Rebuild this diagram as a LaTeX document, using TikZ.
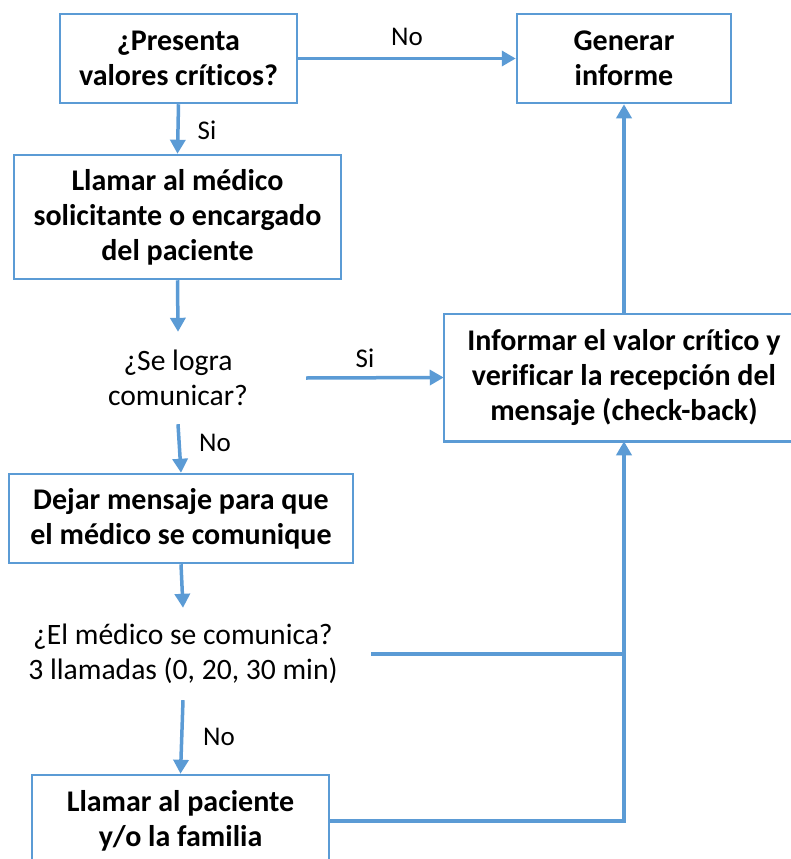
\documentclass[tikz,border=0pt]{standalone}
\usepackage{fontspec}
\setmainfont[Ligatures=NoCommon]{Carlito}
\usetikzlibrary{arrows.meta,calc}
\definecolor{lineblue}{HTML}{5B9BD5}
\tikzset{
  box/.style={draw=lineblue, line width=2.5pt, fill=white, align=center, inner sep=0pt, font=\fontsize{30}{35}\selectfont\bfseries},
  openbox/.style={box, draw=none},
  boxedge/.style={draw=lineblue, line width=2.5pt},
  qtext/.style={align=center, inner sep=0pt, font=\fontsize{29.6}{35}\selectfont},
  lbl/.style={inner sep=0pt, font=\fontsize{27}{32}\selectfont},
  conn/.style={draw=lineblue, line width=3.5pt, -{Triangle[length=14pt,width=15pt]}},
  plain/.style={draw=lineblue, line width=3.5pt}
}
\begin{document}
\begin{tikzpicture}[x=1pt,y=-1pt]
\useasboundingbox (0,0) rectangle (791,859);
\clip (0,0) rectangle (791,859);
\node[box, minimum width=237pt, minimum height=89pt] (q1) at (178.5,58.5) {¿Presenta\\valores críticos?};
\node[box, minimum width=214pt, minimum height=89pt] (gen) at (624,58.5) {Generar\\informe};
\node[box, minimum width=327pt, minimum height=124pt] (call) at (177.5,217) {Llamar al médico\\solicitante o encargado\\del paciente};
\node[qtext, minimum width=256pt, minimum height=92pt] (q2) at (178,378) {¿Se logra\\comunicar?};
\node[openbox, minimum width=358pt, minimum height=125pt] (inf) at (624,377.5) {Informar el valor crítico y\\verificar la recepción del\\mensaje (check-back)};
\draw[boxedge] (inf.north east) -- (inf.north west) -- (inf.south west) -- (inf.south east);
\node[box, minimum width=344pt, minimum height=89pt] (msg) at (181,518.5) {Dejar mensaje para que\\el médico se comunique};
\node[qtext, minimum width=376pt, minimum height=92pt] (q3) at (183,654) {¿El médico se comunica?\\3 llamadas (0, 20, 30 min)};
\node[box, minimum width=297pt, minimum height=92pt] (fam) at (180.5,821) {Llamar al paciente\\y/o la familia};

\node[lbl] (lno1) at (407,37) {No};
\node[lbl] (lsi1) at (207,130) {Si};
\node[lbl] (lsi2) at (365,358) {Si};
\node[lbl] (lno2) at (215,443) {No};
\node[lbl] (lno3) at (219,737) {No};

\coordinate (j1) at (inf.south |- q3.east);

\draw[conn] (q1.east) -- (gen.west);
\draw[conn] (q1.south) -- (call.north);
\draw[conn] (call.south) -- (q2.north);
\draw[conn] (q2.east) -- (inf.west);
\draw[conn] (q2.south) -- (msg.north);
\draw[conn] (msg.south) -- (q3.north);
\draw[conn] (q3.south) -- (fam.north);
\draw[plain] (q3.east) -- (j1);
\draw[conn] (fam.east) -| (inf.south);
\draw[conn] (inf.north) -- (gen.south);
\end{tikzpicture}
\end{document}
